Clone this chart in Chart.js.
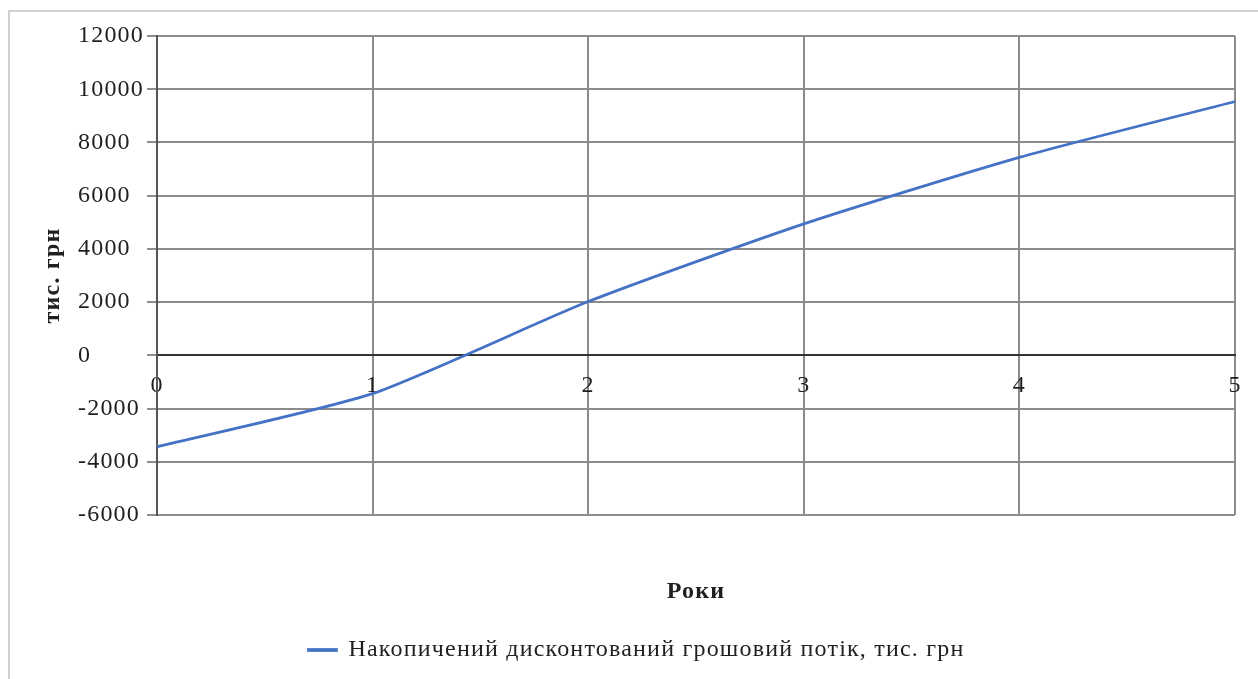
<!DOCTYPE html>
<html>
<head>
<meta charset="utf-8">
<script src="https://cdn.jsdelivr.net/npm/chart.js@4/dist/chart.umd.min.js"></script>
<style>
  html, body { margin: 0; padding: 0; background: #ffffff; }
  #frame { position: absolute; left: 8px; top: 10px; width: 1300px; height: 700px;
           border-left: 2px solid #cfcfcf; border-top: 2px solid #cfcfcf; }
  #wrap { position: absolute; left: 0; top: 0; width: 1258px; height: 679px; }
</style>
</head>
<body>
<div id="frame"></div>
<div id="wrap"><canvas id="c" width="1258" height="679"></canvas></div>
<script>
const years = ['0', '1', '2', '3', '4', '5'];
const cumulativeDiscountedCashFlow = [-3440, -1440, 2020, 4940, 7440, 9540];
const seriesName = 'Накопичений дисконтований грошовий потік, тис. грн';
const yTitle = 'тис. грн';
const xTitle = 'Роки';
const yMin = -6000, yMax = 12000, yStep = 2000;

const FONT = 'Liberation Serif';
const TXT = '#1f1f1f';
const GRID = '#8c8c8c';

function zeroPad(scale) {
  scale.paddingTop = 0; scale.paddingBottom = 0;
  scale.paddingLeft = 0; scale.paddingRight = 0;
}

const wideText = {
  id: 'wideText',
  beforeUpdate(chart) { chart.ctx.letterSpacing = '1.2px'; },
  beforeDraw(chart) { chart.ctx.letterSpacing = '1.2px'; }
};

new Chart(document.getElementById('c'), {
  type: 'line',
  plugins: [wideText],
  data: {
    labels: years,
    datasets: [{
      label: seriesName,
      data: cumulativeDiscountedCashFlow,
      borderColor: '#4472C4',
      backgroundColor: '#4472C4',
      borderWidth: 2.75,
      pointRadius: 0,
      pointHoverRadius: 0,
      tension: 0.2,
      fill: false
    }]
  },
  options: {
    responsive: false,
    animation: false,
    events: [],
    layout: { padding: { left: 38, right: 23, top: 36, bottom: 7 } },
    plugins: {
      tooltip: { enabled: false },
      legend: {
        position: 'bottom',
        labels: {
          color: TXT,
          font: { family: FONT, size: 24 },
          boxWidth: 28,
          boxHeight: 1,
          padding: 10
        }
      }
    },
    scales: {
      x: {
        type: 'category',
        position: { y: 0 },
        offset: false,
        grid: { color: GRID, lineWidth: 2, tickLength: 8, drawTicks: true },
        border: { display: true, color: '#333333', width: 2 },
        ticks: {
          color: TXT, font: { family: FONT, size: 24 },
          padding: 8, autoSkip: false, maxRotation: 0, minRotation: 0
        },
        afterFit: zeroPad
      },
      x2: {
        type: 'category',
        labels: years,
        position: 'bottom',
        offset: false,
        grid: { display: false, drawTicks: false },
        border: { display: false },
        ticks: { display: false },
        title: {
          display: true, text: xTitle, color: TXT,
          font: { family: FONT, size: 24, weight: 'bold' },
          padding: { top: 0, bottom: 22 }
        },
        afterFit: function (scale) { zeroPad(scale); scale.height = 113; }
      },
      yTitleAxis: {
        type: 'linear',
        axis: 'y',
        position: 'left',
        weight: 1,
        min: yMin, max: yMax,
        grid: { display: false, drawTicks: false },
        border: { display: false },
        ticks: { display: false },
        title: {
          display: true, text: yTitle, color: TXT,
          font: { family: FONT, size: 24, weight: 'bold' },
          padding: { top: 0, bottom: 0 }
        },
        afterFit: function (scale) { zeroPad(scale); scale.width = 40; }
      },
      y: {
        type: 'linear',
        position: 'left',
        weight: 0,
        min: yMin, max: yMax,
        grid: { color: GRID, lineWidth: 2, tickLength: 10, drawTicks: true },
        border: { display: true, color: '#555555', width: 2 },
        ticks: {
          stepSize: yStep, color: TXT, crossAlign: 'far',
          font: { family: FONT, size: 24 }, padding: 4,
          callback: function (value) { return String(value); }
        },
        afterFit: function (scale) { zeroPad(scale); scale.width = 79; }
      }
    }
  }
});
</script>
</body>
</html>
